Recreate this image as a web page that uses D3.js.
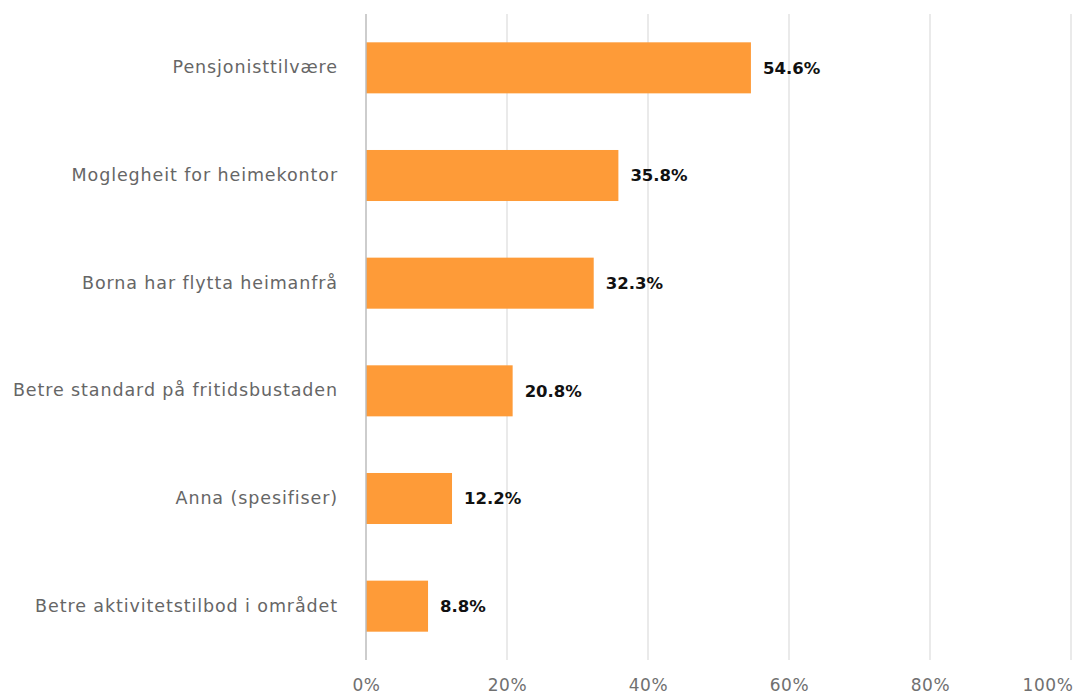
<!DOCTYPE html>
<html>
<head>
<meta charset="utf-8">
<script src="https://cdn.jsdelivr.net/npm/d3@7"></script>
<style>
  html, body { margin: 0; padding: 0; background: #fff; }
  svg { display: block; }
</style>
</head>
<body>
<div id="chart"></div>
<script>
const categories = [
  'Pensjonisttilvære',
  'Moglegheit for heimekontor',
  'Borna har flytta heimanfrå',
  'Betre standard på fritidsbustaden',
  'Anna (spesifiser)',
  'Betre aktivitetstilbod i området'
];
const values = [54.6, 35.8, 32.3, 20.8, 12.2, 8.8];
const ticks = [0, 20, 40, 60, 80, 100];

const width = 1076;
const height = 696;
const margin = { top: 14, right: 5, bottom: 36, left: 366 };

const svg = d3.select('#chart').append('svg')
  .attr('width', width)
  .attr('height', height);

const x = d3.scaleLinear()
  .domain([0, 100])
  .range([margin.left, 1071]);

const y = d3.scaleBand()
  .domain(categories)
  .range([margin.top, height - margin.bottom])
  .paddingInner(0.526)
  .paddingOuter(0.263);

const font = '"DejaVu Sans", Verdana, sans-serif';

// gridlines
svg.append('g')
  .selectAll('line')
  .data(ticks.filter(t => t > 0))
  .enter()
  .append('line')
  .attr('x1', d => x(d))
  .attr('x2', d => x(d))
  .attr('y1', margin.top)
  .attr('y2', height - margin.bottom)
  .attr('stroke', '#e3e3e3')
  .attr('stroke-width', 1.5);

// x tick labels
const xAxis = svg.append('g')
  .attr('transform', `translate(0,${height - margin.bottom})`)
  .call(d3.axisBottom(x).tickValues(ticks).tickFormat(d => d + '%').tickSize(0).tickPadding(19));
xAxis.select('.domain').remove();
xAxis.selectAll('text')
  .style('font-family', font)
  .style('font-size', '17px')
  .style('letter-spacing', '0.6px')
  .attr('fill', '#707070');
// last label is pulled inside the frame
xAxis.selectAll('.tick')
  .filter(d => d === 100)
  .select('text')
  .attr('text-anchor', 'end')
  .attr('x', 2);

// bars
svg.append('g')
  .selectAll('rect')
  .data(values)
  .enter()
  .append('rect')
  .attr('x', x(0))
  .attr('y', (d, i) => y(categories[i]))
  .attr('width', d => x(d) - x(0))
  .attr('height', y.bandwidth())
  .attr('fill', '#fe9b38');

// baseline
svg.append('line')
  .attr('x1', x(0))
  .attr('x2', x(0))
  .attr('y1', margin.top)
  .attr('y2', height - margin.bottom)
  .attr('stroke', '#bdbdbd')
  .attr('stroke-width', 1.5);

// category labels
const yAxis = svg.append('g')
  .attr('transform', `translate(${x(0)},0)`)
  .call(d3.axisLeft(y).tickSize(0).tickPadding(28));
yAxis.select('.domain').remove();
yAxis.selectAll('text')
  .style('font-family', font)
  .style('font-size', '17.5px')
  .style('letter-spacing', '0.9px')
  .attr('fill', '#666');

// value labels
svg.append('g')
  .selectAll('text')
  .data(values)
  .enter()
  .append('text')
  .attr('x', d => x(d) + 12)
  .attr('y', (d, i) => y(categories[i]) + y.bandwidth() / 2)
  .attr('dy', '0.35em')
  .style('font-family', font)
  .style('font-size', '16.5px')
  .style('font-weight', 'bold')
  .attr('fill', '#111')
  .text(d => d.toFixed(1) + '%');
</script>
</body>
</html>
